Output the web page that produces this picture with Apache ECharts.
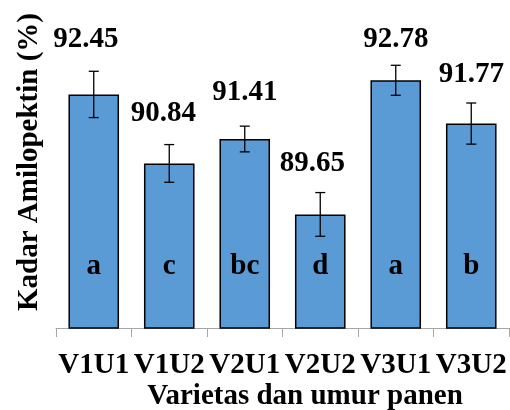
<!DOCTYPE html>
<html>
<head>
<meta charset="utf-8">
<script src="https://cdn.jsdelivr.net/npm/echarts@6/dist/echarts.min.js"></script>
<style>html,body{margin:0;padding:0;background:#fff}#c{width:510px;height:410px}</style>
</head>
<body>
<div id="c"></div>
<script>
const categories = ['V1U1', 'V1U2', 'V2U1', 'V2U2', 'V3U1', 'V3U2'];
const values = [92.45, 90.84, 91.41, 89.65, 92.78, 91.77];
const errors = [0.54, 0.44, 0.30, 0.51, 0.35, 0.48];
const letters = ['a', 'c', 'bc', 'd', 'a', 'b'];
const yMin = 87, yMax = 94;

// label nudges (style only): [dx, dy from error-bar top]
const labelNudge = [[-8, -32], [-6, -31], [0, -34], [-8, -29], [0, -26], [0, -28]];

const FONT = "'Liberation Serif', 'Times New Roman', serif";
const FS = 29;
const chart = echarts.init(document.getElementById('c'));
chart.setOption({
  animation: false,
  grid: { left: 56, right: 1, top: 28, bottom: 82, containLabel: false, outerBoundsMode: 'none' },
  xAxis: {
    type: 'category',
    data: categories,
    axisLine: { lineStyle: { color: '#a6a6a6', width: 1 } },
    axisTick: { show: true, interval: 0, length: 9, lineStyle: { color: '#a6a6a6' } },
    axisLabel: { interval: 0, color: '#000', fontFamily: FONT, fontWeight: 'bold', fontSize: FS, margin: 23 },
    name: 'Varietas dan umur panen',
    nameLocation: 'middle',
    nameGap: 54,
    nameMoveOverlap: false,
    nameTextStyle: { color: '#000', fontFamily: FONT, fontWeight: 'bold', fontSize: FS, padding: [0, 0, 0, 45] }
  },
  yAxis: {
    type: 'value',
    min: yMin, max: yMax,
    axisLine: { show: false },
    axisTick: { show: false },
    axisLabel: { show: false },
    splitLine: { show: false },
    name: 'Kadar Amilopektin (%)',
    nameLocation: 'middle',
    nameGap: 12,
    nameMoveOverlap: false,
    nameTextStyle: { color: '#000', fontFamily: FONT, fontWeight: 'bold', fontSize: FS, padding: [0, 0, 0, 32] }
  },
  series: [
    {
      type: 'bar',
      data: values,
      barCategoryGap: '33%',
      itemStyle: { color: '#5B9BD5', borderColor: '#000', borderWidth: 1.5 },
      label: {
        show: true,
        position: 'insideBottom',
        distance: 48,
        formatter: p => letters[p.dataIndex],
        color: '#000', fontFamily: FONT, fontWeight: 'bold', fontSize: FS
      },
      z: 2
    },
    {
      type: 'custom',
      data: values.map((v, i) => [i, v, errors[i]]),
      z: 5,
      renderItem: function (params, api) {
        const i = api.value(0), v = api.value(1), e = api.value(2);
        const top = api.coord([i, v + e]);
        const bot = api.coord([i, v - e]);
        const x = top[0], cw = 5;
        const st = { stroke: '#000', lineWidth: 1.3 };
        const n = labelNudge[i];
        return {
          type: 'group',
          children: [
            { type: 'line', shape: { x1: x, y1: top[1], x2: x, y2: bot[1] }, style: st },
            { type: 'line', shape: { x1: x - cw, y1: top[1], x2: x + cw, y2: top[1] }, style: st },
            { type: 'line', shape: { x1: x - cw, y1: bot[1], x2: x + cw, y2: bot[1] }, style: st },
            { type: 'text', x: x + n[0], y: top[1] + n[1],
              style: { text: v.toFixed(2), align: 'center', verticalAlign: 'middle',
                       fill: '#000', font: 'bold ' + FS + 'px ' + FONT } }
          ]
        };
      }
    }
  ]
});
</script>
</body>
</html>
